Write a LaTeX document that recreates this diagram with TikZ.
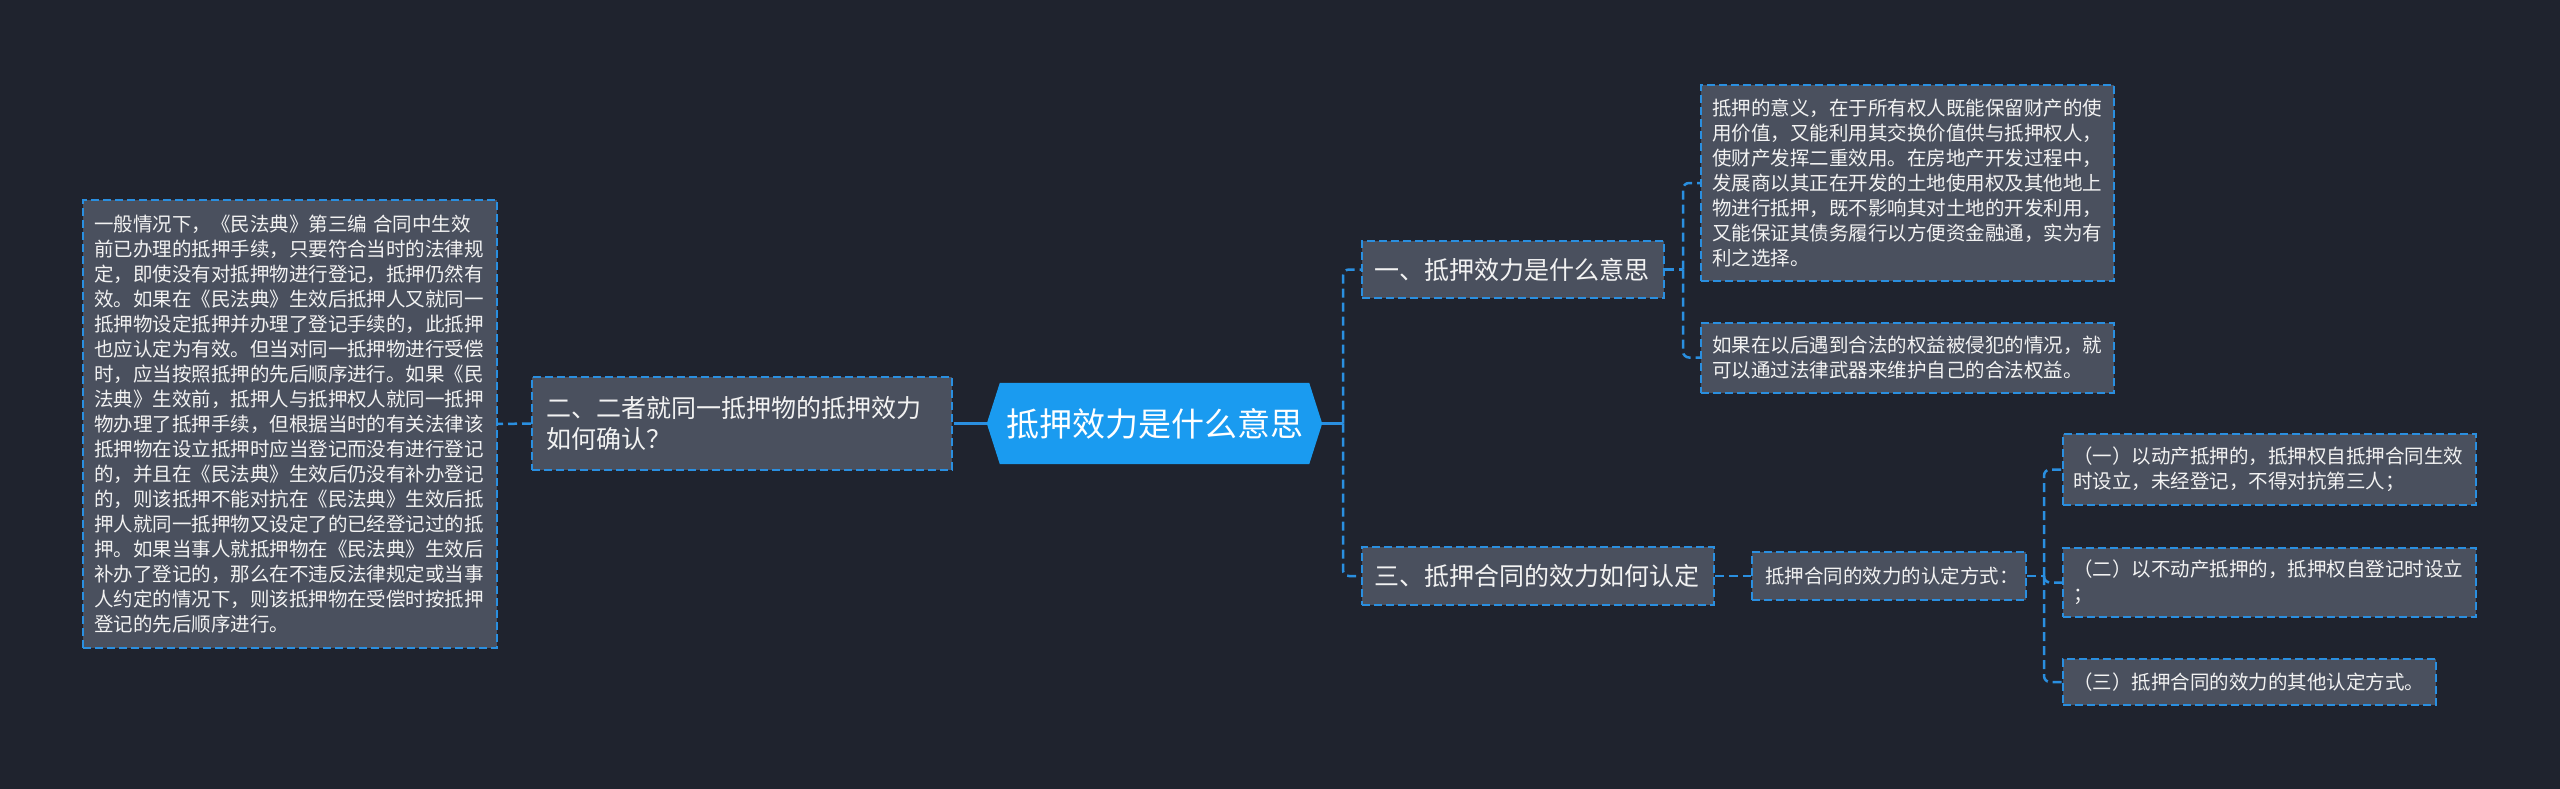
\documentclass[tikz,border=0pt]{standalone}
\usepackage{fontspec}
\setmainfont{Noto Sans CJK SC}
\pgfdeclarelayer{bg}
\pgfsetlayers{bg,main}
\definecolor{bgc}{HTML}{1F232E}
\definecolor{boxc}{HTML}{4A505E}
\definecolor{bluec}{HTML}{2A8FE0}
\definecolor{rootc}{HTML}{1A9BF0}
\definecolor{txtc}{HTML}{F2F2F2}
\tikzset{
  box/.style={draw=bluec, fill=boxc, line width=2pt, dash pattern=on 8pt off 4pt,
    text=txtc, align=left, inner ysep=0pt, anchor=center},
  small/.style={font=\fontsize{19.5pt}{25pt}\selectfont},
  big/.style={font=\fontsize{25pt}{31pt}\selectfont},
  dashc/.style={draw=bluec, line width=2.5pt, dash pattern=on 9pt off 5pt, rounded corners=6pt},
  solidc/.style={draw=bluec, line width=2.5pt},
}
\begin{document}
\begin{tikzpicture}[x=1pt,y=-1pt]
\begin{pgfonlayer}{bg}
\fill[bgc] (0,0) rectangle (2560,789);
\end{pgfonlayer}
\useasboundingbox (0,0) rectangle (2560,789);

% root
\node[text=white, font=\fontsize{33pt}{40pt}\selectfont, minimum width=335pt, minimum height=81pt, inner sep=0pt]
  (root) at (1154.5,423.5) {抵押效力是什么意思};
\begin{pgfonlayer}{bg}
\fill[rootc] (root.west) -- ([xshift=13pt]root.north west) -- ([xshift=-13pt]root.north east)
  -- (root.east) -- ([xshift=-13pt]root.south east) -- ([xshift=13pt]root.south west) -- cycle;
\end{pgfonlayer}

% left side
\node[box, small, text width=392pt, inner xsep=11pt, minimum height=448pt] (lbig) at (290,424) {%
一般情况下，《民法典》第三编 合同中生效\\
前已办理的抵押手续，只要符合当时的法律规\\
定，即使没有对抵押物进行登记，抵押仍然有\\
效。如果在《民法典》生效后抵押人又就同一\\
抵押物设定抵押并办理了登记手续的，此抵押\\
也应认定为有效。但当对同一抵押物进行受偿\\
时，应当按照抵押的先后顺序进行。如果《民\\
法典》生效前，抵押人与抵押权人就同一抵押\\
物办理了抵押手续，但根据当时的有关法律该\\
抵押物在设立抵押时应当登记而没有进行登记\\
的，并且在《民法典》生效后仍没有补办登记\\
的，则该抵押不能对抗在《民法典》生效后抵\\
押人就同一抵押物又设定了的已经登记过的抵\\
押。如果当事人就抵押物在《民法典》生效后\\
补办了登记的，那么在不违反法律规定或当事\\
人约定的情况下，则该抵押物在受偿时按抵押\\
登记的先后顺序进行。};

\node[box, big, text width=392pt, inner xsep=14pt, minimum height=93pt] (n2) at (742,423.5) {%
二、二者就同一抵押物的抵押效力\\如何确认？};

% right level 1
\node[box, big, text width=278pt, inner xsep=12pt, minimum height=57pt] (n1) at (1513,269.5) {一、抵押效力是什么意思};
\node[box, big, text width=328pt, inner xsep=12pt, minimum height=58pt] (n3) at (1538,576) {三、抵押合同的效力如何认定};

% right level 2
\node[box, small, text width=391pt, inner xsep=11pt, minimum height=196pt] (a1) at (1907.5,183) {%
抵押的意义，在于所有权人既能保留财产的使\\
用价值，又能利用其交换价值供与抵押权人，\\
使财产发挥二重效用。在房地产开发过程中，\\
发展商以其正在开发的土地使用权及其他地上\\
物进行抵押，既不影响其对土地的开发利用，\\
又能保证其债务履行以方便资金融通，实为有\\
利之选择。};
\node[box, small, text width=391pt, inner xsep=11pt, minimum height=70pt] (a2) at (1907.5,357.5) {%
如果在以后遇到合法的权益被侵犯的情况，就\\
可以通过法律武器来维护自己的合法权益。};

\node[box, small, text width=248pt, inner xsep=13pt, minimum height=48pt] (b) at (1889,576) {抵押合同的效力的认定方式：};

% level 3
\node[box, small, text width=393pt, inner xsep=10pt, minimum height=71pt] (c1) at (2269.5,469.5) {%
（一）以动产抵押的，抵押权自抵押合同生效\\
时设立，未经登记，不得对抗第三人；};
\node[box, small, text width=393pt, inner xsep=10pt, minimum height=69pt] (c2) at (2269.5,582.5) {%
（二）以不动产抵押的，抵押权自登记时设立\\
；};
\node[box, small, text width=353pt, inner xsep=10pt, minimum height=46pt] (c3) at (2249.5,682) {%
（三）抵押合同的效力的其他认定方式。};

% junctions
\coordinate (j0) at (963,423.5);
\coordinate (j1) at (1343,423.5);
\coordinate (j2) at (1683,269.5);
\coordinate (j3) at (2044,576);

% connectors
\draw[solidc] (root.west) -- (j0);
\draw[dashc] (j0) -- (n2.east);
\draw[dashc] (n2.west) -- (lbig.east);

\draw[solidc] (root.east) -- (j1);
\draw[dashc] (j1) |- (n1.west);
\draw[dashc] (j1) |- (n3.west);

\draw[dashc] (n1.east) -- (j2);
\draw[dashc] (j2) |- (a1.west);
\draw[dashc] (j2) |- (a2.west);

\draw[dashc] (n3.east) -- (b.west);

\draw[dashc] (b.east) -- (j3);
\draw[dashc] (j3) |- (c1.west);
\draw[dashc] (j3) |- (c2.west);
\draw[dashc] (j3) |- (c3.west);
\end{tikzpicture}
\end{document}
